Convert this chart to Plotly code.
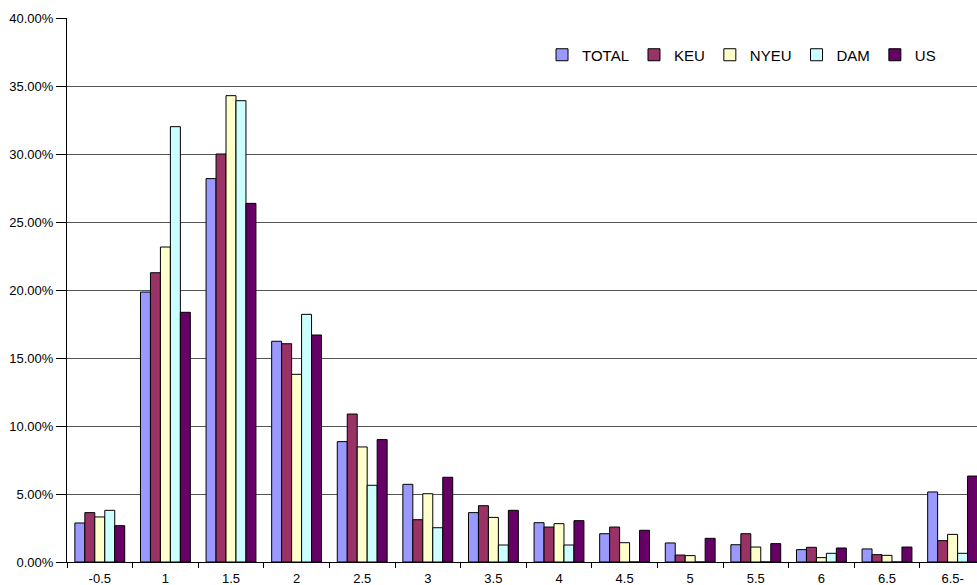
import plotly.graph_objects as go

categories = ["-0.5", "1", "1.5", "2", "2.5", "3", "3.5", "4", "4.5", "5", "5.5", "6", "6.5", "6.5-"]

total = [2.87, 19.85, 28.19, 16.23, 8.85, 5.71, 3.63, 2.89, 2.08, 1.40, 1.27, 0.91, 0.96, 5.15]
keu   = [3.63, 21.27, 30.00, 16.05, 10.88, 3.11, 4.14, 2.57, 2.57, 0.51, 2.08, 1.08, 0.54, 1.57]
nyeu  = [3.31, 23.16, 34.29, 13.80, 8.46, 5.02, 3.28, 2.82, 1.42, 0.47, 1.10, 0.32, 0.49, 2.03]
dam   = [3.80, 32.01, 33.92, 18.21, 5.64, 2.52, 1.25, 1.25, 0.0, 0.0, 0.0, 0.64, 0.0, 0.64]
us    = [2.67, 18.36, 26.37, 16.69, 9.00, 6.23, 3.80, 3.04, 2.33, 1.74, 1.35, 1.03, 1.10, 6.32]

series = [
    ("TOTAL", total, "#9999FF"),
    ("KEU", keu, "#993366"),
    ("NYEU", nyeu, "#FFFFCC"),
    ("DAM", dam, "#CCFFFF"),
    ("US", us, "#660066"),
]

fig = go.Figure()
for name, vals, color in series:
    fig.add_trace(go.Bar(
        name=name,
        x=categories,
        y=[v / 100 for v in vals],
        marker=dict(color=color, line=dict(color="#000000", width=1)),
    ))

font = "Liberation Sans, Arial, sans-serif"
fig.update_layout(
    width=977, height=585,
    margin=dict(l=67, r=0, t=18, b=23, pad=0),
    paper_bgcolor="white", plot_bgcolor="white",
    barmode="group", bargap=0.24, bargroupgap=0,
    font=dict(family=font, size=13, color="#000000"),
    showlegend=True,
    legend=dict(
        orientation="h", x=0.522, xanchor="left", y=0.932, yanchor="middle",
        font=dict(family=font, size=15, color="#000000"),
        bgcolor="rgba(0,0,0,0)", traceorder="normal",
    ),
    xaxis=dict(
        type="category", range=[-0.5, 13.372], autorange=False,
        showline=True, linecolor="#000000", linewidth=1,
        ticks="outside", tickson="boundaries", ticklen=5, tickcolor="#000000",
        showgrid=False, automargin=False, ticklabelstandoff=4,
        tickfont=dict(family=font, size=13),
    ),
    yaxis=dict(
        range=[0, 0.40], autorange=False, dtick=0.05, tickformat=".2%",
        showline=True, linecolor="#000000", linewidth=1,
        ticks="outside", ticklen=10, tickcolor="#000000",
        showgrid=True, gridcolor="#555555", gridwidth=1,
        zeroline=False, automargin=False,
        tickfont=dict(family=font, size=13),
    ),
)

fig.write_html("out.html")
